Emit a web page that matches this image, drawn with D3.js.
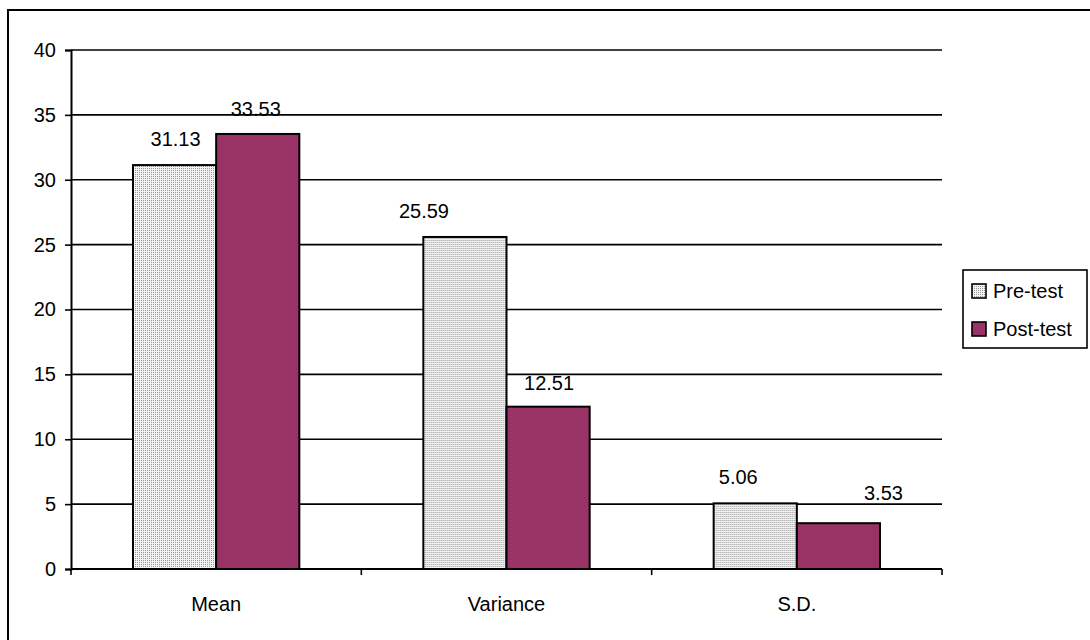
<!DOCTYPE html>
<html>
<head>
<meta charset="utf-8">
<script src="https://cdn.jsdelivr.net/npm/d3@7"></script>
<style>
  html, body { margin: 0; padding: 0; background: #fff; }
  svg { display: block; font-family: "Liberation Sans", Arial, sans-serif; }
</style>
</head>
<body>
<svg id="chart" width="1090" height="640"></svg>
<script>
// Chart data
const categories = ["Mean", "Variance", "S.D."];
const seriesNames = ["Pre-test", "Post-test"];
const preTest = [31.13, 25.59, 5.06];
const postTest = [33.53, 12.51, 3.53];
const yTicks = [0, 5, 10, 15, 20, 25, 30, 35, 40];

// Label nudges (px) so value labels sit where Excel placed them
const labelDx = [[1, -2], [-41, 1], [-17, 45]];
const labelDy = [[19, 18], [19, 17], [19, 23]];

const svg = d3.select("#chart");
const W = 1090, H = 640;
const plot = { left: 71, right: 942, top: 50, bottom: 569 };
const fontSize = 20;

// Outer frame (extends past the right/bottom edge)
svg.append("rect")
  .attr("x", 8).attr("y", 10)
  .attr("width", W + 10).attr("height", H + 10)
  .attr("fill", "#fff").attr("stroke", "#000").attr("stroke-width", 2);

// Fine dotted fill for the Pre-test series: one grey dot per 2x2 cell
const defs = svg.append("defs");
const pat = defs.append("pattern")
  .attr("id", "dots").attr("patternUnits", "userSpaceOnUse")
  .attr("width", 2).attr("height", 2);
pat.append("rect").attr("width", 2).attr("height", 2).attr("fill", "#f2f2f2");
pat.append("rect").attr("width", 1).attr("height", 1).attr("fill", "#9a9a9a");

const fills = ["url(#dots)", "#993366"];

const x0 = d3.scaleBand().domain(categories).range([plot.left, plot.right]).paddingInner(0).paddingOuter(0);
const groupPad = 62;
const x1 = d3.scaleBand().domain(seriesNames).range([groupPad, x0.bandwidth() - groupPad]).padding(0);
const y = d3.scaleLinear().domain([0, 40]).range([plot.bottom, plot.top]);

// Gridlines
svg.append("g")
  .selectAll("line")
  .data(yTicks.filter(t => t > 0))
  .join("line")
  .attr("x1", plot.left).attr("x2", plot.right)
  .attr("y1", d => y(d)).attr("y2", d => y(d))
  .attr("stroke", "#000").attr("stroke-width", 1.6);

// Bars
const rows = categories.map((c, i) => ({ cat: c, i, vals: [preTest[i], postTest[i]] }));
const groups = svg.append("g").selectAll("g")
  .data(rows).join("g")
  .attr("transform", d => `translate(${x0(d.cat)},0)`);

groups.selectAll("rect")
  .data(d => d.vals.map((v, k) => ({ v, k, s: seriesNames[k] })))
  .join("rect")
  .attr("x", d => x1(d.s))
  .attr("y", d => y(d.v))
  .attr("width", x1.bandwidth())
  .attr("height", d => y(0) - y(d.v))
  .attr("fill", d => fills[d.k])
  .attr("stroke", "#000").attr("stroke-width", 2);

// Value labels
groups.selectAll("text")
  .data(d => d.vals.map((v, k) => ({ v, k, s: seriesNames[k], i: d.i })))
  .join("text")
  .attr("x", d => x1(d.s) + x1.bandwidth() / 2 + labelDx[d.i][d.k])
  .attr("y", d => y(d.v) - labelDy[d.i][d.k])
  .attr("text-anchor", "middle")
  .attr("font-size", fontSize)
  .attr("fill", "#000")
  .text(d => d.v.toFixed(2));

// Y axis
const yAxis = d3.axisLeft(y).tickValues(yTicks).tickSize(6).tickPadding(9).tickFormat(d3.format("d"));
const yg = svg.append("g").attr("transform", `translate(${plot.left},0)`).call(yAxis);
yg.select(".domain").attr("stroke", "#000").attr("stroke-width", 2);
yg.selectAll(".tick line").attr("stroke", "#000").attr("stroke-width", 1.6);
yg.selectAll(".tick text").attr("font-size", fontSize).attr("font-family", "Liberation Sans, Arial, sans-serif").attr("fill", "#000");

// X axis: baseline with ticks at category boundaries
const xg = svg.append("g");
xg.append("line")
  .attr("x1", plot.left).attr("x2", plot.right)
  .attr("y1", y(0)).attr("y2", y(0))
  .attr("stroke", "#000").attr("stroke-width", 2);
const bounds = categories.map(c => x0(c)).concat([x0(categories[categories.length - 1]) + x0.bandwidth()]);
xg.selectAll("line.tk")
  .data(bounds).join("line").attr("class", "tk")
  .attr("x1", d => d).attr("x2", d => d)
  .attr("y1", y(0)).attr("y2", y(0) + 6)
  .attr("stroke", "#000").attr("stroke-width", 1.6);
xg.selectAll("text")
  .data(categories).join("text")
  .attr("x", d => x0(d) + x0.bandwidth() / 2)
  .attr("y", 611)
  .attr("text-anchor", "middle")
  .attr("font-size", fontSize)
  .attr("fill", "#000")
  .text(d => d);

// Legend
const lg = svg.append("g");
lg.append("rect")
  .attr("x", 963).attr("y", 270).attr("width", 124).attr("height", 78)
  .attr("fill", "#fff").attr("stroke", "#000").attr("stroke-width", 1.6);
const legendY = [291, 329];
seriesNames.forEach((s, k) => {
  lg.append("rect")
    .attr("x", 972).attr("y", legendY[k] - 7).attr("width", 14).attr("height", 14)
    .attr("fill", fills[k]).attr("stroke", "#000").attr("stroke-width", 1.6);
  lg.append("text")
    .attr("x", 993).attr("y", legendY[k])
    .attr("dy", "0.35em")
    .attr("font-size", fontSize)
    .attr("fill", "#000")
    .text(s);
});
</script>
</body>
</html>
